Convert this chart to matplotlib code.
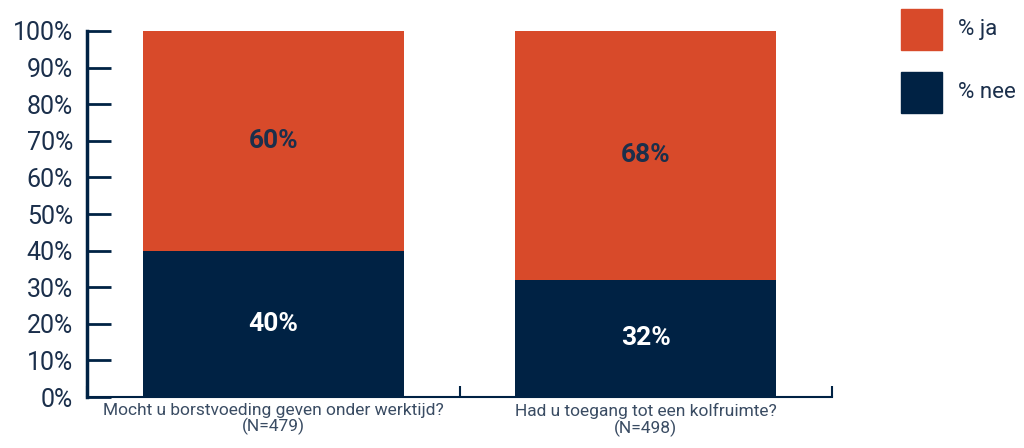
import matplotlib
matplotlib.use('Agg')
import matplotlib.pyplot as plt
from matplotlib.patches import Rectangle
import numpy as np

plt.rcParams['font.family'] = ['Roboto', 'DejaVu Sans']

# gegevens
categories = ['Mocht u borstvoeding geven onder werktijd?\n(N=479)',
              'Had u toegang tot een kolfruimte?\n(N=498)']
nee = [40, 32]
ja = [60, 68]

ORANJE = '#D84A2A'
NAVY = '#002244'
TEKST = '#1B2F4B'

W, H = 1024, 448
fig = plt.figure(figsize=(W / 100, H / 100), dpi=100)
ax = fig.add_axes([87 / W, 1 - 397 / H, (832 - 87) / W, (397 - 31) / H])

x = np.arange(len(categories))
ax.bar(x, nee, width=0.7, color=NAVY)
ax.bar(x, ja, width=0.7, bottom=nee, color=ORANJE)

for i in range(len(x)):
    ax.text(x[i], nee[i] / 2, f'{nee[i]}%', ha='center', va='center',
            color='white', fontsize=19, fontweight='bold')
    ax.text(x[i], nee[i] + ja[i] / 2, f'{ja[i]}%', ha='center', va='center',
            color=TEKST, fontsize=19, fontweight='bold')

ax.set_xlim(-0.5, 1.5)
ax.set_ylim(0, 100)
ax.set_yticks(range(0, 101, 10))
ax.set_yticklabels([f'{v}%' for v in range(0, 101, 10)])
ax.tick_params(axis='y', direction='in', length=17, width=2, color=NAVY,
               labelsize=18, labelcolor=TEKST, pad=10)

# categorie-labels en grens-ticks op de x-as
ax.set_xticks([-0.5, 0.5, 1.5])
ax.set_xticklabels([])
ax.set_xticks(x, minor=True)
ax.set_xticklabels(categories, minor=True, fontsize=12.5, color='#3A4C63',
                   linespacing=1.05)
ax.tick_params(axis='x', which='major', direction='in', length=8, width=1.5, color=NAVY)
ax.tick_params(axis='x', which='minor', length=0, pad=4)

for s in ['top', 'right']:
    ax.spines[s].set_visible(False)
ax.spines['left'].set_color(NAVY)
ax.spines['left'].set_linewidth(2.5)
ax.spines['bottom'].set_color(NAVY)
ax.spines['bottom'].set_linewidth(1.5)

# legenda rechtsboven
legenda = [('% ja', ORANJE), ('% nee', NAVY)]
for k, (lab, kleur) in enumerate(legenda):
    y0 = 9 + k * 63
    fig.patches.append(Rectangle((901 / W, 1 - (y0 + 41) / H), 41 / W, 41 / H,
                                 transform=fig.transFigure, color=kleur))
    fig.text(958 / W, 1 - (y0 + 20) / H, lab, fontsize=16, color=TEKST,
             va='center', ha='left')

fig.savefig('out.png', dpi=100)
